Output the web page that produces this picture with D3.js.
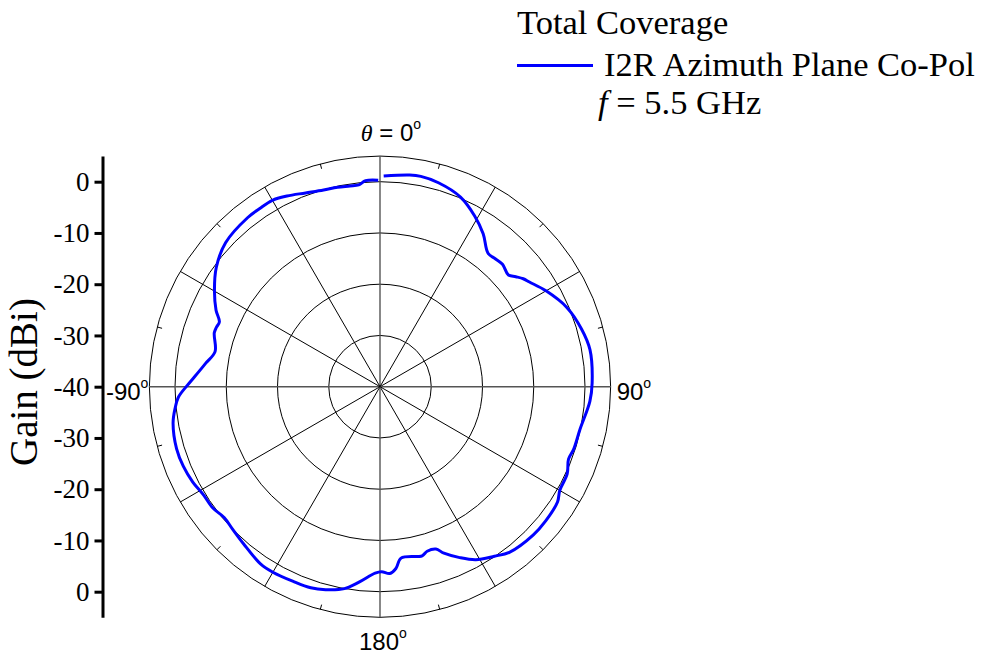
<!DOCTYPE html>
<html>
<head>
<meta charset="utf-8">
<title>Total Coverage polar</title>
<style>
  body { margin: 0; background: #fff; }
</style>
</head>
<body>
<script src="https://d3js.org/d3.v7.min.js"></script>
<script>
// pattern data: azimuth angle (deg, clockwise from top) and gain (dBi)
var angleDeg = [1, 8, 11, 16, 23, 29, 34, 39, 42, 45, 49, 51, 53, 55, 60, 67, 74, 80, 89,
  94, 102, 108, 111, 115, 120, 123, 129, 134, 142, 146, 151, 155, 159, 161, 164, 166, 173,
  175, 177, 179.5, 181.5, 186, 190, 195, 199, 204, 210, 214, 221, 226, 230, 234, 238.5,
  243, 248, 253, 260, 264, 267, 270.4, 274, 277.7, 282, 288, 290, 292, 295, 300, 306, 313,
  322, 326, 330, 334, 339, 344, 348, 351.5, 354, 356, 359.5];
var gainDb = [1.1, 1.7, 1.8, 1.4, 0.2, -1.9, -4.0, -6.5, -6.4, -6.2, -6.8, -5.9, -5.0, -4.4, -2.6, -0.4, 0.9, 1.6, 1.4,
  1.05, -0.1, -0.3, -0.6, 0.3, 0.5, 1.3, 1.6, 1.6, 1.0, -0.1, -1.4, -3.2, -5.2, -6.5, -6.6, -6.0, -6.3,
  -4.4, -3.5, -3.9, -3.6, -1.7, 0.0, 1.0, 1.5, 1.6, 1.8, 1.7, 0.6, 0.0, -0.3, 0.3, 0.4,
  1.0, 1.4, 1.5, 1.0, 0.2, -0.6, -2.4, -4.2, -5.7, -7.1, -6.0, -6.05, -6.2, -4.7, -2.7, -0.5, 1.2,
  1.9, 1.95, 2.0, 1.4, 0.5, -0.06, -0.2, -0.4, -0.4, 0.3, 0.3];

var ringDb = [-30, -20, -10, 0, 5];
var spokeDeg = [0, 30, 60, 90, 120, 150, 180, 210, 240, 270, 300, 330];
var minorDeg = [15, 45, 75, 105, 135, 165, 195, 225, 255, 285, 315, 345];
var axisTickVals = [40, 30, 20, 10, 0, -10, -20, -30, -40];
var axisTickLabels = ["0", "-10", "-20", "-30", "-40", "-30", "-20", "-10", "0"];

var width = 987, height = 657;
var cx = 380, cy = 386.7;
var serif = "'Liberation Serif', 'Times New Roman', serif";
var sans = "'Liberation Sans', Arial, sans-serif";

var svg = d3.select("body").append("svg")
  .attr("width", width).attr("height", height);

var r = d3.scaleLinear().domain([-40, 0]).range([0, 205]);
var rOut = r(5);
var rad = function (deg) { return deg * Math.PI / 180; };

var g = svg.append("g").attr("transform", "translate(" + cx + "," + cy + ")");

// rings
g.selectAll("circle.ring").data(ringDb).enter().append("circle")
  .attr("class", "ring")
  .attr("r", function (d) { return r(d); })
  .attr("fill", "none").attr("stroke", "#000").attr("stroke-width", 1);

// spokes
g.selectAll("line.spoke").data(spokeDeg).enter().append("line")
  .attr("class", "spoke")
  .attr("x1", 0).attr("y1", 0)
  .attr("x2", function (d) { return rOut * Math.sin(rad(d)); })
  .attr("y2", function (d) { return -rOut * Math.cos(rad(d)); })
  .attr("stroke", function (d) { return d % 90 == 0 ? "#555" : "#000"; })
  .attr("stroke-width", function (d) { return d % 90 == 0 ? 1.4 : 1; });

// minor ticks on outer ring
g.selectAll("line.minor").data(minorDeg).enter().append("line")
  .attr("class", "minor")
  .attr("x1", function (d) { return rOut * Math.sin(rad(d)); })
  .attr("y1", function (d) { return -rOut * Math.cos(rad(d)); })
  .attr("x2", function (d) { return (rOut - 5) * Math.sin(rad(d)); })
  .attr("y2", function (d) { return -(rOut - 5) * Math.cos(rad(d)); })
  .attr("stroke", "#000").attr("stroke-width", 1);

// pattern curve
var pts = angleDeg.map(function (a, i) { return [rad(a), r(gainDb[i])]; });
var line = d3.lineRadial().curve(d3.curveCatmullRom.alpha(0.5));
g.append("path")
  .attr("d", line(pts))
  .attr("fill", "none")
  .attr("stroke", "#0000ff")
  .attr("stroke-width", 3)
  .attr("stroke-linejoin", "round");

// angle labels
function angLabel(txt, x, y, anchor, pre) {
  var t = svg.append("text").attr("x", x).attr("y", y)
    .attr("text-anchor", anchor)
    .attr("font-family", sans).attr("font-size", 24).attr("fill", "#000");
  if (pre) {
    t.append("tspan").attr("font-family", serif).attr("font-style", "italic").text("\u03b8");
    t.append("tspan").text(" = ");
  }
  t.append("tspan").text(txt);
  t.append("tspan").attr("font-size", 14).attr("dy", -12).text("o");
  return t;
}
angLabel("0", cx + 11, cy - rOut - 15, "middle", true);
angLabel("90", cx + rOut + 6, cy + 13, "start");
angLabel("-90", cx - rOut - 1, cy + 13, "end");
angLabel("180", cx - 21, cy + rOut + 32.5, "start");

// gain axis on the left
var yAx = d3.scaleLinear().domain([-45, 45]).range([cy + rOut, cy - rOut]);
var axis = d3.axisLeft(yAx).tickValues(axisTickVals)
  .tickFormat(function (d, i) { return axisTickLabels[i]; })
  .tickSize(8).tickSizeOuter(0).tickPadding(5);
var ax = svg.append("g").attr("transform", "translate(102.5,0)").call(axis);
ax.select(".domain").attr("stroke", "#000").attr("stroke-width", 3);
ax.selectAll(".tick line").attr("stroke", "#000").attr("stroke-width", 3);
ax.selectAll(".tick text").attr("font-family", serif).attr("font-size", 27).attr("fill", "#000");

svg.append("text")
  .attr("transform", "translate(37," + 382 + ") rotate(-90)")
  .attr("text-anchor", "middle")
  .attr("font-family", serif).attr("font-size", 39)
  .text("Gain (dBi)");

// legend
svg.append("text").attr("x", 517).attr("y", 34)
  .attr("font-family", serif).attr("font-size", 34.5).text("Total Coverage");
svg.append("line").attr("x1", 517).attr("x2", 593).attr("y1", 65.5).attr("y2", 65.5)
  .attr("stroke", "#0000ff").attr("stroke-width", 3);
svg.append("text").attr("x", 604).attr("y", 76)
  .attr("font-family", serif).attr("font-size", 34.5).text("I2R Azimuth Plane Co-Pol");
var ft = svg.append("text").attr("x", 598).attr("y", 114)
  .attr("font-family", serif).attr("font-size", 34.5);
ft.append("tspan").attr("font-style", "italic").text("f");
ft.append("tspan").text(" = 5.5 GHz");
</script>
</body>
</html>
